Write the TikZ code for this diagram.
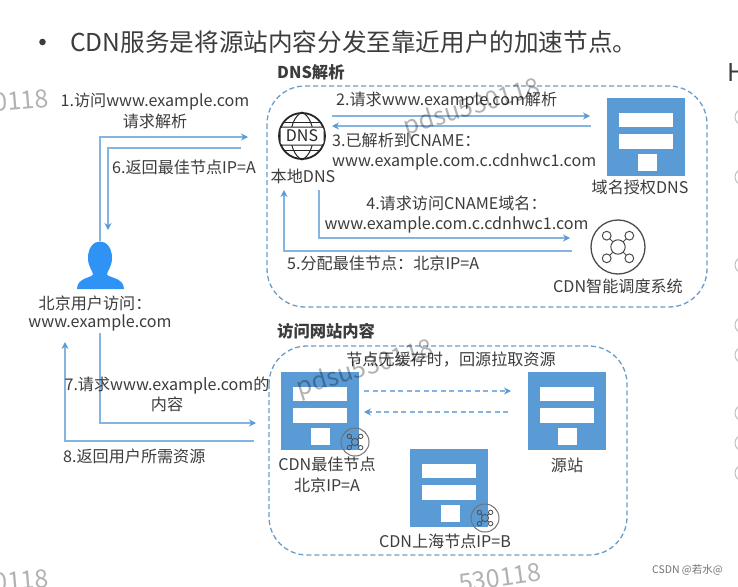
\documentclass[tikz,border=0pt]{standalone}
\usepackage{fontspec}
\setmainfont{Noto Sans CJK SC}
\usepackage{xcolor}
\usetikzlibrary{arrows.meta, positioning, calc}
\definecolor{srvblue}{HTML}{5B9BD5}
\definecolor{boxblue}{HTML}{6D9CC6}
\definecolor{usrblue}{HTML}{2F93F5}
\definecolor{inkgray}{HTML}{3C3C3C}
\tikzset{
  %% Text labels
  lbl/.style={font=\fontsize{16.1}{20.5}\selectfont, text=inkgray, inner sep=0pt},
  ttl/.style={font=\fontsize{16.3}{20}\selectfont\bfseries, text=inkgray, inner sep=0pt},
  wmark/.style={font=\fontsize{25}{25}\selectfont, text=black, opacity=0.3, inner sep=0pt},
  %% Arrow
  arr/.style={-{Stealth[length=7pt,width=7pt,color=srvblue]}, draw=srvblue!75, line width=1.4pt},
  darr/.style={-{Stealth[length=7pt,width=7pt,color=srvblue]}, draw=srvblue!75, line width=1.3pt,
               dash pattern=on 5pt off 3.5pt},
  %% Dashed zone
  zone/.style={draw=boxblue, line width=1.3pt, rounded corners=38pt,
               dash pattern=on 5pt off 3pt},
  %% Server block
  srv/.style={rectangle, fill=srvblue, minimum width=78pt, minimum height=78pt,
              inner sep=0pt},
  badge/.style={circle, draw=black!55, line width=1pt, minimum size=28pt, inner sep=0pt},
}
%% White bars of a server block
\newcommand{\srvbars}[1]{%
  \fill[white] ($(#1)+(-27,-24)$) rectangle ($(#1)+(27,-10)$);
  \fill[white] ($(#1)+(-27,-3)$) rectangle ($(#1)+(27,12)$);
  \fill[white] ($(#1)+(-8.5,17)$) rectangle ($(#1)+(10.5,34)$);
}
%% Hub with four satellites
\newcommand{\hubmark}[3]{%
  \draw[line width=#3, black!70] (#1) circle (0.36*#2);
  \foreach \ang in {45,135,225,315} {
    \draw[line width=#3, black!70] ($(#1)+(\ang:0.36*#2)$) -- ($(#1)+(\ang:0.58*#2)$);
    \draw[line width=#3, black!70] ($(#1)+(\ang:0.8*#2)$) circle (0.22*#2);
  }
}
\begin{document}
\begin{tikzpicture}[x=1pt, y=-1pt]
  \useasboundingbox (0,0) rectangle (738,586);
  \fill[white] (0,0) rectangle (738,586);

  %% Title
  \fill[inkgray] (42.5,42) circle (3.3pt);
  \node[lbl, font=\fontsize{24.6}{28}\selectfont, anchor=west] (title) at (70,42)
       {CDN服务是将源站内容分发至靠近用户的加速节点。};

  %% Cut-off column on the right
  \node[lbl, font=\fontsize{24.6}{28}\selectfont, anchor=west] (hdr) at (727,72) {H};
  \foreach \y in {117,177,265,325,355,413,443,473} {
    \draw[black!25, line width=1pt] (743,\y) circle (8pt);
  }

  %% Zones
  \draw[zone] (267,86) rectangle (707,307);
  \draw[zone] (269,346) rectangle (627,555);
  \node[ttl, anchor=west] (dnsttl) at (277,72) {DNS解析};
  \node[ttl, anchor=west] (webttl) at (277,331) {访问网站内容};

  %% Servers
  \node[srv] (auth) at (646,136.5) {};
  \node[srv] (best) at (319.5,411) {};
  \node[srv] (origin) at (566.5,411) {};
  \node[srv] (shnode) at (449,488) {};
  \foreach \s in {auth,best,origin,shnode} {
    \srvbars{\s}
  }

  \node[lbl] (authlbl) at (640,187) {域名授权DNS};
  \node[lbl, align=center] (bestlbl) at (327,475) {CDN最佳节点\\北京IP=A};
  \node[lbl] (originlbl) at (567,465) {源站};
  \node[lbl] (shlbl) at (445,541) {CDN上海节点IP=B};

  %% Badges on the CDN nodes
  \node[badge] (bdgA) at (355,442) {};
  \hubmark{bdgA}{10pt}{0.8pt}
  \node[badge] (bdgB) at (485,518) {};
  \hubmark{bdgB}{10pt}{0.8pt}

  %% Local DNS icon
  \node[circle, draw=black!85, line width=1.8pt, minimum size=46pt, inner sep=0pt]
       (dns) at (302,136) {};
  \draw[black!85, line width=1pt] (dns.north) .. controls (287,120) and (287,152) .. (dns.south);
  \draw[black!85, line width=1pt] (dns.north) .. controls (317,120) and (317,152) .. (dns.south);
  \draw[black!85, line width=1pt] (283,122) -- (321,122);
  \draw[black!85, line width=1pt] (283,150) -- (321,150);
  \node[draw=black!85, fill=white, line width=1pt, rounded corners=2pt, inner sep=1pt,
        minimum width=44pt, minimum height=18pt,
        font=\fontsize{16}{16}\selectfont, text=black!85] (dnstxt) at (302,136) {DNS};
  \node[lbl] (dnslbl) at (303,176) {本地DNS};

  %% Scheduling system icon
  \node[circle, draw=black!70, line width=1.3pt, minimum size=54pt, inner sep=0pt]
       (sched) at (618,247) {};
  \hubmark{sched}{20pt}{1pt}
  \node[lbl] (schedlbl) at (618,286) {CDN智能调度系统};

  %% User
  \coordinate (user) at (100,265);
  \fill[usrblue] (88,258) .. controls (88,236) and (112,236) .. (112,258)
       .. controls (112,266) and (108,270) .. (107,274)
       .. controls (107,278) and (124,277) .. (124,289)
       -- (77,289) .. controls (77,277) and (93,278) .. (93,274)
       .. controls (92,270) and (88,266) .. (88,258) -- cycle;
  \node[lbl] (userlbl) at (95,303) {北京用户访问：};
  \node[lbl] (userurl) at (100,323) {www.example.com};

  %% Anchor points of the connectors
  \coordinate (uA) at (100,241);
  \coordinate (uB) at (108,230);
  \coordinate (uC) at (100,333);
  \coordinate (uD) at (65,342);
  \coordinate (inA) at (248,137);
  \coordinate (inB) at (241,148);
  \coordinate (inC) at (256,423);
  \coordinate (inD) at (254,441);
  \coordinate (dA) at (332,116);
  \coordinate (dB) at (590,116);
  \coordinate (dC) at (332,126);
  \coordinate (dD) at (591,126);
  \coordinate (dE) at (319,190);
  \coordinate (dF) at (570,238);
  \coordinate (dG) at (284,190);
  \coordinate (dH) at (572,251);
  \coordinate (oA) at (364,391);
  \coordinate (oB) at (511,391);
  \coordinate (oC) at (364,412);
  \coordinate (oD) at (508,412);

  %% Connectors
  \draw[arr] (uA) |- (inA);
  \draw[arr] (inB) -| (uB);
  \draw[arr] (uC) |- (inC);
  \draw[arr] (inD) -| (uD);
  \draw[arr] (dA) -- (dB);
  \draw[arr] (dD) -- (dC);
  \draw[arr] (dE) |- (dF);
  \draw[arr] (dH) -| (dG);
  \draw[darr] (oA) -- (oB);
  \draw[darr] (oD) -- (oC);

  %% Connector labels
  \node[lbl, align=center] (stepA) at (155,111) {1.访问www.example.com\\请求解析};
  \node[lbl, anchor=west] (stepF) at (112,167) {6.返回最佳节点IP=A};
  \node[lbl, anchor=west] (stepB) at (336,101) {2.请求www.example.com解析};
  \node[lbl, align=left, anchor=west] (stepC) at (332,151.5)
       {3.已解析到CNAME：\\www.example.com.c.cdnhwc1.com};
  \node[lbl, align=center] (stepD) at (456.5,214.5)
       {4.请求访问CNAME域名：\\www.example.com.c.cdnhwc1.com};
  \node[lbl, anchor=west] (stepE) at (287,263) {5.分配最佳节点：北京IP=A};
  \node[lbl, align=center] (stepG) at (167,394.5) {7.请求www.example.com的\\内容};
  \node[lbl, anchor=west] (stepH) at (63,456) {8.返回用户所需资源};
  \node[lbl] (fetchlbl) at (451,360) {节点无缓存时，回源拉取资源};

  %% Watermarks
  \node[wmark, anchor=east, rotate=5] (wmA) at (49,98) {0118};
  \node[wmark, anchor=east, rotate=5] (wmB) at (49,578) {0118};
  \node[wmark, anchor=center, rotate=8] (wmC) at (500,578) {530118};
  \node[wmark, anchor=center, rotate=17] (wmD) at (472,108) {pdsu530118};
  \node[wmark, anchor=center, rotate=17] (wmE) at (365,369) {pdsu530118};

  %% Site mark
  \node[lbl, font=\fontsize{10.5}{14}\selectfont, text=black!55, anchor=east]
       (csdn) at (723,570) {CSDN @若水@};
\end{tikzpicture}
\end{document}
